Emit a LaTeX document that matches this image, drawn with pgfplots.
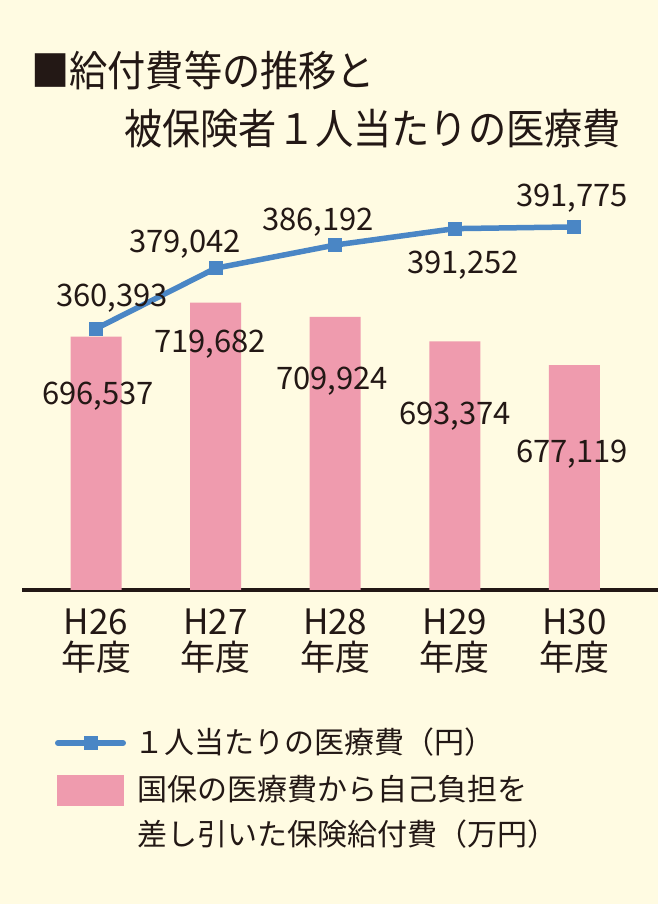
\documentclass[border=0pt]{standalone}
\usepackage{pgfplots}
\pgfplotsset{compat=1.18}
\usepackage{fontspec}
\setmainfont{Noto Sans CJK JP}
\newfontfamily\titlefont[FakeStretch=0.91]{Noto Sans CJK JP}
\definecolor{bgcream}{RGB}{255,251,226}
\definecolor{barpink}{RGB}{239,155,174}
\definecolor{lineblue}{RGB}{74,134,197}
\definecolor{textdark}{RGB}{35,24,21}
\begin{document}
\begin{tikzpicture}[x=1pt,y=1pt]
\fill[bgcream] (0,0) rectangle (658,904);
\path[use as bounding box] (0,0) rectangle (658,904);
% title
\node[anchor=base west, inner sep=0pt, text=textdark, font=\titlefont\fontsize{42}{48}\selectfont] at (31,817) {■給付費等の推移と};
\node[anchor=base west, inner sep=0pt, text=textdark, font=\titlefont\fontsize{42}{48}\selectfont] at (124,759) {被保険者１人当たりの医療費};
% bars
\begin{axis}[
  at={(22pt,314pt)}, anchor=south west,
  width=636pt, height=440pt, scale only axis,
  xmin=-0.619, xmax=4.699,
  ymin=524356, ymax=823336,
  axis x line=bottom, axis y line=none,
  x axis line style={-, line width=4pt, draw=textdark},
  xtick={0,1,2,3,4},
  xticklabels={{H26\\年度},{H27\\年度},{H28\\年度},{H29\\年度},{H30\\年度}},
  xticklabel style={align=center, text=textdark, font=\fontsize{35}{36}\selectfont, yshift=-15pt},
  major tick length=0pt,
  clip=false,
]
\addplot[ybar, bar width=51pt, fill=barpink, draw=none,
  point meta=explicit symbolic,
  nodes near coords,
  visualization depends on={\thisrow{dx} \as \dx},
  visualization depends on={\thisrow{dy} \as \dy},
  every node near coord/.append style={anchor=center, xshift=\dx pt, yshift=\dy pt, text=textdark, font=\fontsize{31}{36}\selectfont},
] table[x=x, y=y, meta=lab] {
x y lab dx dy
0 696537 696,537 2 -59.4
1 719682 719,682 -5.6 -41.5
2 709924 709,924 -3.2 -64.1
3 693374 693,374 0.2 -74.7
4 677119 677,119 -2.4 -88.8
};
\end{axis}
% line
\begin{axis}[
  at={(22pt,314pt)}, anchor=south west,
  width=636pt, height=440pt, scale only axis,
  xmin=-0.619, xmax=4.699,
  ymin=279772, ymax=415512,
  hide axis, clip=false,
]
\addplot[lineblue, line width=5.5pt, mark=square*, mark size=6.5pt,
  mark options={line width=1pt, fill=lineblue, draw=lineblue},
  point meta=explicit symbolic,
  nodes near coords,
  visualization depends on={\thisrow{dx} \as \dx},
  visualization depends on={\thisrow{dy} \as \dy},
  every node near coord/.append style={anchor=center, xshift=\dx pt, yshift=\dy pt, text=textdark, font=\fontsize{31}{36}\selectfont},
] table[x=x, y=y, meta=lab] {
x y lab dx dy
0 360393 360,393 16 30.7
1 379042 379,042 -30.6 24.2
2 386192 386,192 -17.2 23
3 391252 391,252 8.2 -36.4
4 391775 391,775 -2.4 28.9
};
\end{axis}
% legend
\draw[lineblue, line width=6pt, line cap=round] (58,161) -- (123,161);
\fill[lineblue] (83.5,154) rectangle (97.5,168);
\node[anchor=base west, inner sep=0pt, text=textdark, font=\fontsize{30}{36}\selectfont] at (134,150) {１人当たりの医療費（円）};
\fill[barpink] (57,98) rectangle (124,129);
\node[anchor=base west, inner sep=0pt, text=textdark, font=\fontsize{30}{36}\selectfont] at (137,103) {国保の医療費から自己負担を};
\node[anchor=base west, inner sep=0pt, text=textdark, font=\fontsize{30}{36}\selectfont] at (137,58) {差し引いた保険給付費（万円）};
\end{tikzpicture}
\end{document}
